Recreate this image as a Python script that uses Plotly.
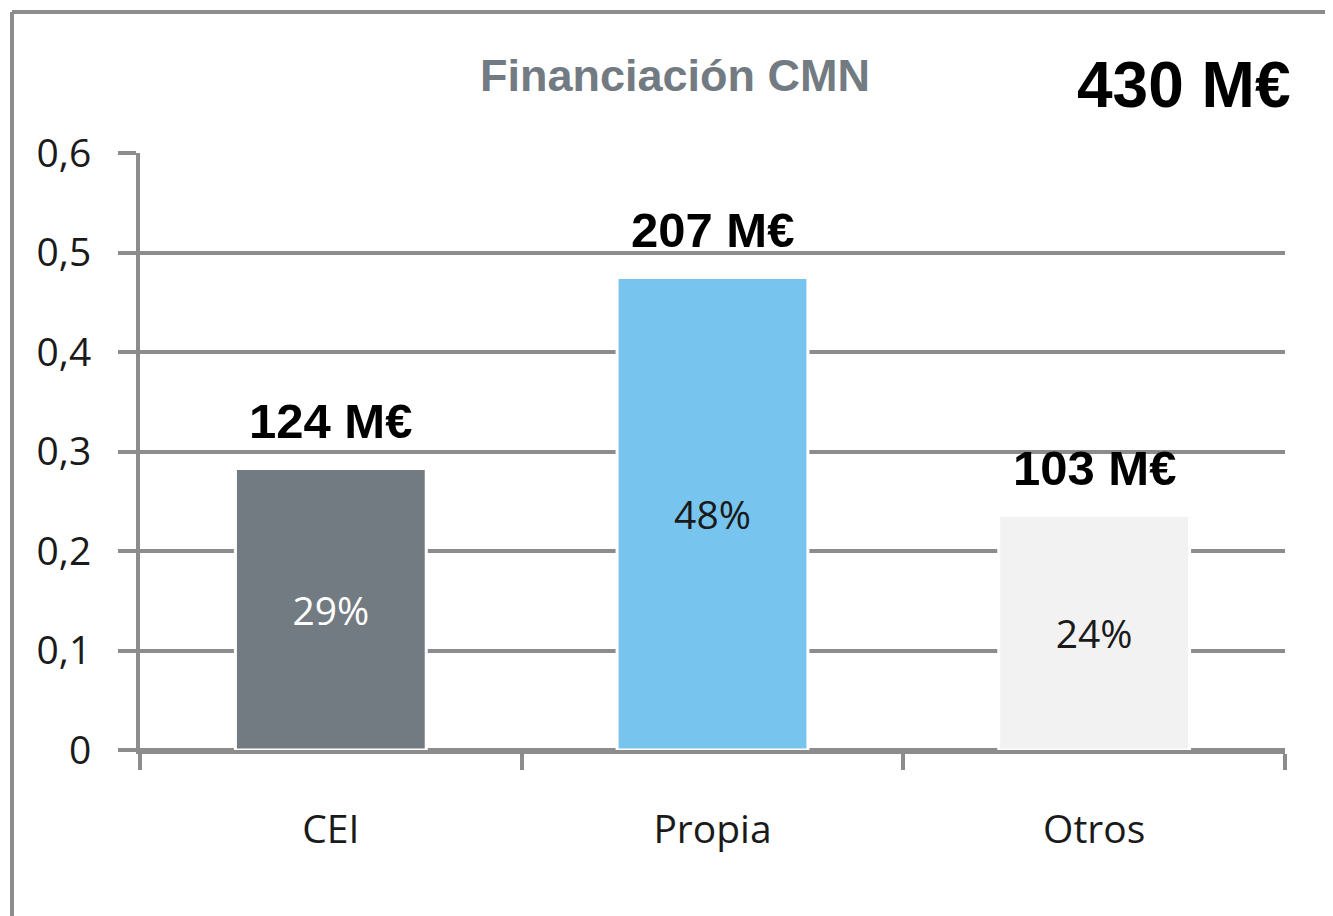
import plotly.graph_objects as go

categories = ["CEI", "Propia", "Otros"]
values = [0.283, 0.475, 0.236]
pct_labels = ["29%", "48%", "24%"]
amount_labels = ["124 M€", "207 M€", "103 M€"]
bar_colors = ["#737b82", "#77c4ef", "#f2f2f2"]
pct_colors = ["#ffffff", "#1a1a1a", "#1a1a1a"]
y_ticks = [0, 0.1, 0.2, 0.3, 0.4, 0.5, 0.6]
y_tick_text = ["0", "0,1", "0,2", "0,3", "0,4", "0,5", "0,6"]
title_text = "Financiación CMN"
total_text = "430 M€"

# the page body has an 8px margin, so the figure starts at (8, 8)
OFF = 8
W, H = 1333 - OFF, 916 - OFF
ML, MR, MT, MB = 140 - OFF, 48, 153 - OFF, 166
pw, ph = W - ML - MR, H - MT - MB
GRID = "#8c8c8c"


def px_x(x):
    return (x - OFF - ML) / pw


def px_y(y):
    return (H - MB - (y - OFF)) / ph


fig = go.Figure()
fig.add_trace(go.Bar(
    x=categories, y=values, width=0.5,
    marker=dict(color=bar_colors, line=dict(color="white", width=3)),
    text=pct_labels, textposition="inside", insidetextanchor="middle",
    textfont=dict(family="Open Sans", size=39, color=pct_colors),
    textangle=0, hoverinfo="skip",
))

for c, v, t in zip(categories, values, amount_labels):
    fig.add_annotation(x=c, y=v, text=f"<b>{t}</b>", showarrow=False,
                       yanchor="bottom", yshift=18,
                       font=dict(family="Liberation Sans", size=49, color="black"))

fig.add_annotation(xref="paper", yref="paper", x=px_x(675), y=px_y(75),
                   text=f"<b>{title_text}</b>", showarrow=False, xanchor="center", yanchor="middle",
                   font=dict(family="Liberation Sans", size=45, color="#737b82"))
fig.add_annotation(xref="paper", yref="paper", x=px_x(1292), y=px_y(85),
                   text=f"<b>{total_text}</b>", showarrow=False, xanchor="right", yanchor="middle",
                   font=dict(family="Liberation Sans", size=64, color="black"))

# outer frame (top and left edges)
fx, fy = px_x(12), px_y(12)
fig.add_shape(type="line", xref="paper", yref="paper", x0=fx, x1=px_x(1340), y0=fy, y1=fy,
              line=dict(color=GRID, width=4))
fig.add_shape(type="line", xref="paper", yref="paper", x0=fx, x1=fx, y0=fy, y1=px_y(930),
              line=dict(color=GRID, width=4))

fig.update_layout(
    width=W, height=H,
    margin=dict(l=ML, r=MR, t=MT, b=MB),
    paper_bgcolor="white", plot_bgcolor="white",
    showlegend=False,
    bargap=0.5,
    xaxis=dict(
        showline=True, linecolor=GRID, linewidth=4,
        ticks="outside", tickson="boundaries", ticklen=16, tickwidth=4, tickcolor=GRID,
        tickfont=dict(family="Open Sans", size=39, color="#1a1a1a"),
        ticklabelstandoff=42,
        showgrid=False, fixedrange=True,
    ),
    yaxis=dict(
        range=[0, 0.6], tickvals=y_ticks, ticktext=y_tick_text,
        showline=True, linecolor=GRID, linewidth=4,
        ticks="outside", ticklen=18, tickwidth=4, tickcolor=GRID,
        tickfont=dict(family="Open Sans", size=39, color="#1a1a1a"),
        ticklabelstandoff=19,
        showgrid=True, gridcolor=GRID, gridwidth=4,
        zeroline=True, zerolinecolor=GRID, zerolinewidth=4,
        fixedrange=True,
    ),
)

fig.write_html("out.html")
